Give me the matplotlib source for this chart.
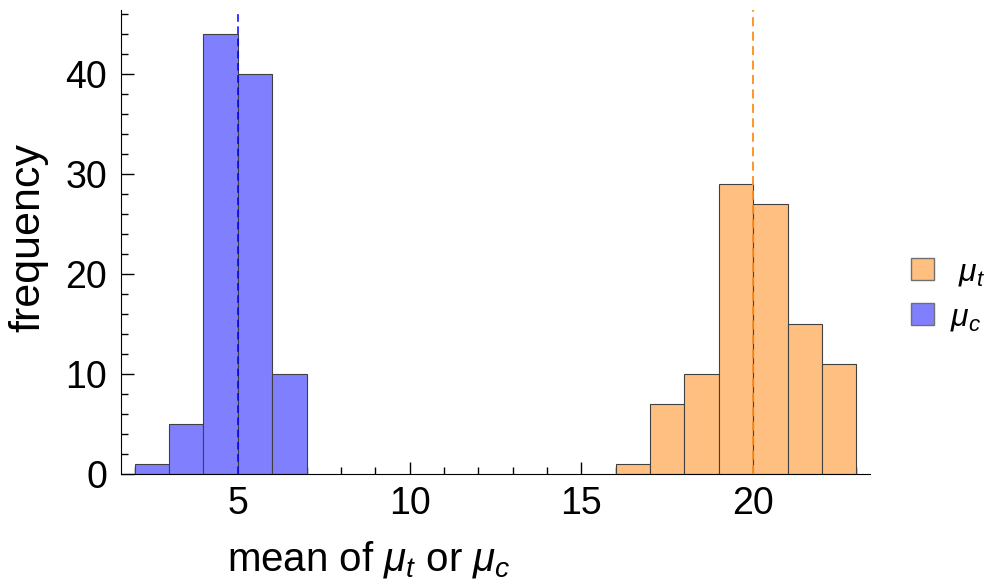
import matplotlib
matplotlib.use("Agg")
import matplotlib.pyplot as plt
from matplotlib.ticker import MultipleLocator
from matplotlib.patches import Patch

plt.rcParams['font.family'] = ['Liberation Sans', 'DejaVu Sans']
plt.rcParams['mathtext.fontset'] = 'custom'
plt.rcParams['mathtext.it'] = 'Liberation Sans:italic'
plt.rcParams['mathtext.rm'] = 'Liberation Sans'

# Data (histogram bins, width 1)
bins_c = [2, 3, 4, 5, 6]
counts_c = [1, 5, 44, 40, 10]
bins_t = [16, 17, 18, 19, 20, 21, 22]
counts_t = [1, 7, 10, 29, 27, 15, 11]
mean_c = 5
mean_t = 20
xticks = [5, 10, 15, 20]
yticks = [0, 10, 20, 30, 40]

blue_fill = '#8080ff'
orange_fill = '#ffbf80'
edge = '#404040'

fig = plt.figure(figsize=(9.88, 5.84), dpi=100)
ax = fig.add_axes([0.1225, 0.1884, 0.7581, 0.7946])

ax.bar(bins_c, counts_c, width=1, align='edge', color=blue_fill,
       edgecolor=edge, linewidth=0.8, zorder=2)
ax.bar(bins_t, counts_t, width=1, align='edge', color=orange_fill,
       edgecolor=edge, linewidth=0.8, zorder=2)

ax.axvline(mean_c, color='#0000ff', linestyle=(0, (5, 3)), linewidth=1.1, zorder=3)
ax.axvline(mean_t, color='#ff8c1a', linestyle=(0, (5, 3)), linewidth=1.3, zorder=3)

ax.set_xlim(1.6, 23.4)
ax.set_ylim(0, 46.4)
ax.spines['top'].set_visible(False)
ax.spines['right'].set_visible(False)
ax.set_xticks(xticks)
ax.set_yticks(yticks)
ax.xaxis.set_minor_locator(MultipleLocator(1))
ax.yaxis.set_minor_locator(MultipleLocator(2))
ax.tick_params(which='major', direction='in', length=9, width=1, labelsize=27)
ax.tick_params(axis='x', which='major', pad=9)
ax.tick_params(axis='y', which='major', pad=10)
ax.tick_params(which='minor', direction='in', length=5, width=1)

ax.set_xlabel(r'mean of $\mu_t$ or $\mu_c$', fontsize=29)
ax.set_ylabel('frequency', fontsize=31)
ax.xaxis.set_label_coords(0.331, -0.185)
ax.xaxis.label.set_va('center')
ax.yaxis.set_label_coords(-0.124, 0.51)
ax.yaxis.label.set_va('center')

handles = [Patch(facecolor=orange_fill, edgecolor='#707070', linewidth=1),
           Patch(facecolor=blue_fill, edgecolor='#707070', linewidth=1)]
fig.legend(handles, [r' $\mu_t$', r'$\mu_c$'], loc='center left',
           bbox_to_anchor=(0.922, 0.495), frameon=False, fontsize=23,
           handlelength=0.72, handleheight=0.72, handletextpad=0.5,
           labelspacing=0.45, borderpad=0, borderaxespad=0)

fig.savefig('out.png', dpi=100)
